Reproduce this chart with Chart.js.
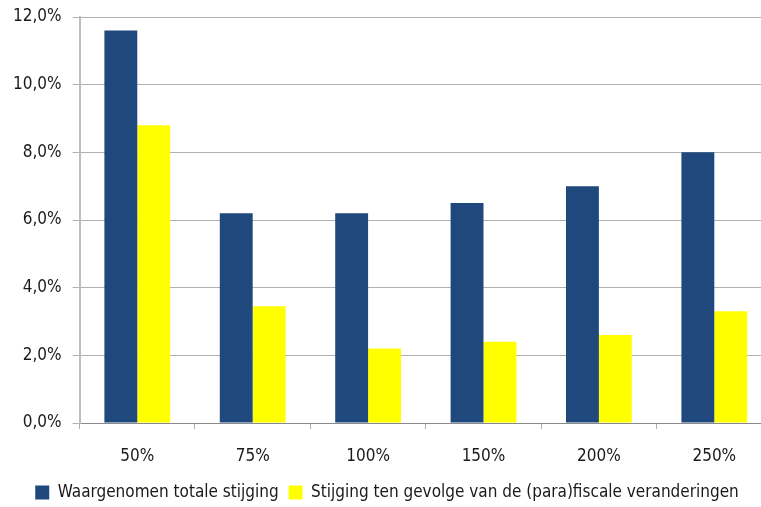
<!DOCTYPE html>
<html><head><meta charset="utf-8">
<script src="https://cdn.jsdelivr.net/npm/chart.js@4/dist/chart.umd.min.js"></script>
<style>
html,body{margin:0;padding:0;background:#fff;overflow:hidden;}
#wrap{position:relative;width:790px;height:507px;}
</style></head>
<body><div id="wrap"><canvas id="c"></canvas></div>
<script>
const categories = ["50%","75%","100%","150%","200%","250%"];
const waargenomen = [11.6, 6.2, 6.2, 6.5, 7.0, 8.0];
const fiscaal = [8.8, 3.45, 2.2, 2.4, 2.6, 3.3];
const seriesNames = ["Waargenomen totale stijging","Stijging ten gevolge van de (para)fiscale veranderingen"];
const yTicks = [0,2,4,6,8,10,12];

const FONT = "'DejaVu Sans Condensed','Liberation Sans Narrow',sans-serif";

const legendHeight = {
  id: 'legendHeight',
  beforeInit(chart) {
    const origFit = chart.legend.fit;
    chart.legend.fit = function() { origFit.call(this); this.height = 33; };
  }
};

new Chart(document.getElementById('c'), {
  type: 'bar',
  data: {
    labels: categories,
    datasets: [
      {label: seriesNames[0], data: waargenomen, backgroundColor: '#1F497D'},
      {label: seriesNames[1], data: fiscaal, backgroundColor: '#FFFF00'}
    ]
  },
  plugins: [legendHeight],
  options: {
    responsive: true, maintainAspectRatio: false, animation: false,
    devicePixelRatio: 1,
    layout: {padding: {top: 17, right: 18, left: 2, bottom: 0}},
    datasets: {bar: {categoryPercentage: 0.57, barPercentage: 1.0}},
    plugins: {
      tooltip: {enabled: false},
      legend: {
        position: 'bottom',
        labels: {font: {family: FONT, size: 17}, color: '#1a1a1a', boxWidth: 14, boxHeight: 14, padding: 10}
      }
    },
    scales: {
      x: {
        afterFit: (s) => { s.height = 51; },
        grid: {offset: true, drawOnChartArea: false, drawTicks: true, tickLength: 6, color: '#b0b0b0', lineWidth: 1},
        border: {display: true, color: '#8a8a8a'},
        ticks: {font: {family: FONT, size: 17}, color: '#1a1a1a', padding: 17}
      },
      y: {
        min: 0, max: 12,
        afterFit: (s) => { s.paddingTop = 0; s.paddingBottom = 0; },
        afterBuildTicks: (axis) => { axis.ticks = yTicks.map(v => ({value: v})); },
        grid: {color: '#b0b0b0', lineWidth: 1, tickLength: 7},
        border: {display: true, color: '#bdbdbd', width: 2},
        ticks: {font: {family: FONT, size: 17}, color: '#1a1a1a', padding: 11,
          callback: (v) => v.toFixed(1).replace('.', ',') + '%'}
      }
    }
  }
});
</script></body></html>
